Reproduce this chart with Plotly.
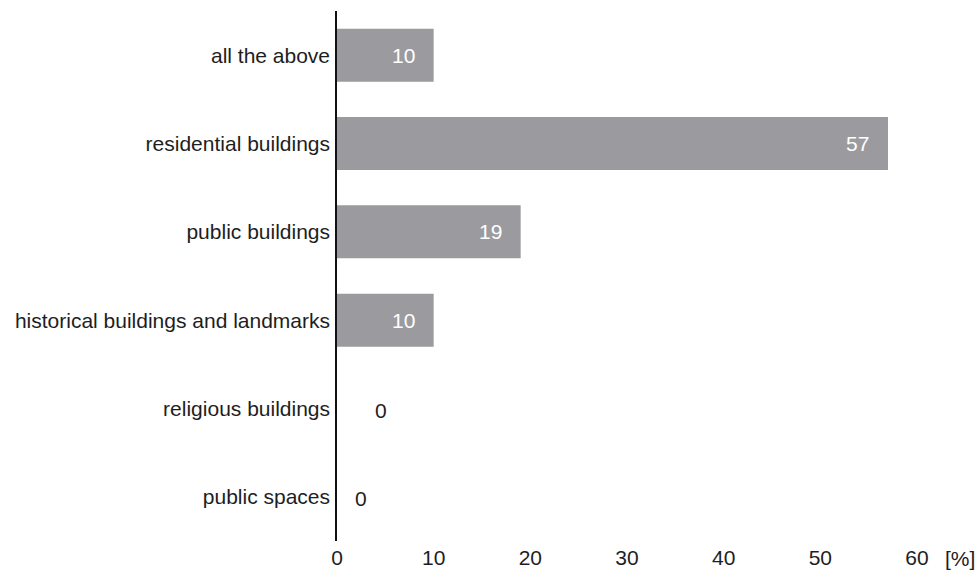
import plotly.graph_objects as go

categories = ["public spaces", "religious buildings", "historical buildings and landmarks",
              "public buildings", "residential buildings", "all the above"]
values = [0, 0, 10, 19, 57, 10]
x_ticks = [0, 10, 20, 30, 40, 50, 60]
unit_label = "[%]"

FONT = "Liberation Sans, Arial, sans-serif"
FS = 21
BAR = "#9b9b9f"
TXT = "#1e1e1e"

fig = go.Figure(go.Bar(
    y=categories, x=values, orientation="h",
    marker=dict(color=BAR, line=dict(width=0)),
    hoverinfo="skip",
))

zero_shift = {"religious buildings": 44, "public spaces": 24}
for c, v in zip(categories, values):
    if v > 0:
        fig.add_annotation(x=v, y=c, text=str(v), showarrow=False, xanchor="right",
                           xshift=-17, font=dict(family=FONT, size=FS, color="white"))
    else:
        fig.add_annotation(x=v, y=c, text=str(v), showarrow=False, xanchor="center",
                           xshift=zero_shift.get(c, 20), yshift=-2,
                           font=dict(family=FONT, size=FS, color=TXT))

fig.add_annotation(x=1, xref="paper", y=0, yref="paper", yanchor="middle", yshift=-17,
                   text=unit_label, showarrow=False, xanchor="center", xshift=43,
                   font=dict(family=FONT, size=FS, color=TXT))

fig.update_layout(
    width=980, height=571,
    margin=dict(l=337, r=63, t=11, b=30),
    paper_bgcolor="white", plot_bgcolor="white",
    bargap=0.4, showlegend=False,
    font=dict(family=FONT, size=FS, color=TXT),
)
fig.update_xaxes(range=[0, 60], tickvals=x_ticks, showgrid=False, zeroline=False,
                 showline=False, ticks="", ticklabelstandoff=2, automargin=False,
                 tickfont=dict(size=FS, color=TXT))
fig.update_yaxes(showgrid=False, zeroline=False, showline=True, linecolor="#111",
                 linewidth=1.5, ticks="", ticklabelstandoff=1, automargin=False,
                 tickfont=dict(size=FS, color=TXT))

fig.write_html("out.html")
